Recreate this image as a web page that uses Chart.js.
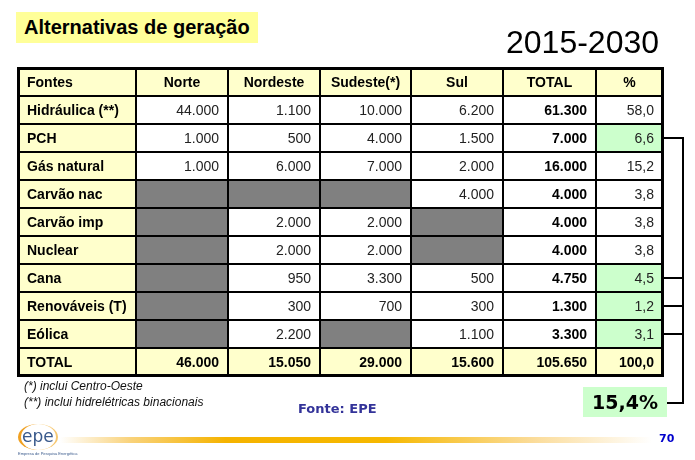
<!DOCTYPE html>
<html>
<head>
<meta charset="utf-8">
<title>Alternativas de geração</title>
<script src="https://cdn.jsdelivr.net/npm/chart.js"></script>
<style>
  body { margin:0; background:#fff; font-family:"Liberation Sans", Arial, sans-serif; }
  #wrap { position:relative; width:695px; height:460px; overflow:hidden; }
  #tbl { position:absolute; left:0; top:0; }
  .abs { position:absolute; white-space:nowrap; }
</style>
</head>
<body>
<div id="wrap">
  <canvas id="tbl" width="695" height="460"></canvas>
  <div class="abs" style="left:16px;top:12px;width:242px;height:31px;background:#ffff99;"></div>
  <div class="abs" style="left:24px;top:15px;font-weight:bold;font-size:20px;line-height:24px;color:#000;">Alternativas de geração</div>
  <div class="abs" style="left:506px;top:22px;font-size:32px;line-height:40px;color:#000;">2015-2030</div>
  <div class="abs" style="left:24px;top:378px;font-style:italic;font-size:12px;line-height:16px;color:#111;">(*) inclui Centro-Oeste<br>(**) inclui hidrelétricas binacionais</div>
  <div class="abs" style="left:298px;top:401px;font-family:'DejaVu Sans';font-weight:bold;font-size:13px;color:#333399;">Fonte: EPE</div>
  <div class="abs" id="box" style="left:583px;top:387px;width:84px;height:30px;background:#ccffcc;font-family:'DejaVu Sans';font-weight:bold;font-size:19px;line-height:30px;text-align:center;color:#000;"></div>
  <div class="abs" style="left:60px;top:437px;width:592px;height:6px;background:linear-gradient(to right,#fff 0%,#f9d27a 12%,#f5b300 28%,#f6b800 55%,#fbdc9a 80%,#fff 100%);"></div>
  <div class="abs" style="left:18px;top:424px;width:40px;height:26px;border-radius:50%;border-left:3px solid #f0a020;border-right:2px solid #f7c870;box-sizing:border-box;"></div>
  <div class="abs" style="left:22px;top:425px;font-family:'DejaVu Sans';font-size:17px;line-height:22px;color:#3a5a8c;">epe</div>
  <div class="abs" style="left:18px;top:451px;font-size:4px;color:#3a5a8c;">Empresa de Pesquisa Energética</div>
  <div class="abs" style="left:659px;top:432px;font-family:'DejaVu Sans';font-weight:bold;font-size:11px;color:#0000cc;">70</div>
</div>
<script>
// dados (MW) 2015-2030
const headers = ['Fontes', 'Norte', 'Nordeste', 'Sudeste(*)', 'Sul', 'TOTAL', '%'];
const fontes = ['Hidráulica (**)', 'PCH', 'Gás natural', 'Carvão nac', 'Carvão imp', 'Nuclear', 'Cana', 'Renováveis (T)', 'Eólica'];
const norte    = [44000, 1000, 1000, null, null, null, null, null, null];
const nordeste = [1100, 500, 6000, null, 2000, 2000, 950, 300, 2200];
const sudeste  = [10000, 4000, 7000, null, 2000, 2000, 3300, 700, null];
const sul      = [6200, 1500, 2000, 4000, null, null, 500, 300, 1100];
const total    = [61300, 7000, 16000, 4000, 4000, 4000, 4750, 1300, 3300];
const pct      = [58.0, 6.6, 15.2, 3.8, 3.8, 3.8, 4.5, 1.2, 3.1];
const totalRow = [46000, 15050, 29000, 15600, 105650, 100.0];
const destaque = ['PCH', 'Cana', 'Renováveis (T)', 'Eólica'];
const destaquePct = 15.4;

// column edges in px-like units of the x scale (layout only)
const colEdges = [0, 118, 210, 302, 393, 485, 578, 645];

const rowLabels = ['Fontes'].concat(fontes, ['TOTAL']);
const columns = [null, norte, nordeste, sudeste, sul, total, pct];

function fmtInt(v) { return String(v).replace(/\B(?=(\d{3})+(?!\d))/g, '.'); }
function fmtPct(v) { return v.toFixed(1).replace('.', ','); }

function cellText(c, r) {
  if (r === 0) return headers[c];
  if (c === 0) return rowLabels[r];
  if (r === rowLabels.length - 1) return c === 6 ? fmtPct(totalRow[c - 1]) : fmtInt(totalRow[c - 1]);
  const v = columns[c][r - 1];
  if (v === null) return '';
  return c === 6 ? fmtPct(v) : fmtInt(v);
}

function cellColor(c, r) {
  if (r === 0 || c === 0 || r === rowLabels.length - 1) return '#ffffcc';
  const v = columns[c][r - 1];
  if (v === null) return '#808080';
  if (c === 6 && destaque.includes(rowLabels[r])) return '#ccffcc';
  return '#ffffff';
}

const datasets = headers.map((h, c) => ({
  label: h,
  data: rowLabels.map(() => [colEdges[c], colEdges[c + 1]]),
  backgroundColor: rowLabels.map((_, r) => cellColor(c, r)),
  borderColor: '#000',
  borderWidth: 1,
  borderSkipped: false,
  inflateAmount: 0,
  barPercentage: 1,
  categoryPercentage: 1,
  grouped: false
}));

const tablePlugin = {
  id: 'tablePlugin',
  afterDatasetsDraw(chart) {
    const ctx = chart.ctx;
    const last = rowLabels.length - 1;
    ctx.save();
    ctx.textBaseline = 'middle';
    chart.data.datasets.forEach((ds, c) => {
      chart.getDatasetMeta(c).data.forEach((el, r) => {
        const t = cellText(c, r);
        if (!t) return;
        const bold = r === 0 || r === last || c === 0 || c === 5;
        ctx.font = (bold ? 'bold ' : '') + '14px "Liberation Sans", Arial, sans-serif';
        ctx.fillStyle = bold ? '#000' : '#222';
        const left = Math.min(el.x, el.base), right = Math.max(el.x, el.base);
        if (c === 0) { ctx.textAlign = 'left'; ctx.fillText(t, left + 9, el.y + 1); }
        else if (r === 0) { ctx.textAlign = 'center'; ctx.fillText(t, (left + right) / 2, el.y + 1); }
        else { ctx.textAlign = 'right'; ctx.fillText(t, right - 9, el.y + 1); }
      });
    });
    // outer frame
    const a = chart.chartArea;
    ctx.strokeStyle = '#000';
    ctx.lineWidth = 3;
    ctx.strokeRect(a.left + 0.5, a.top + 0.5, a.right - a.left - 1, a.bottom - a.top - 1);
    // bracket for highlighted sources
    const y = chart.scales.y;
    const bx = a.right + 20, boxY = 403;
    ctx.lineWidth = 2;
    ctx.beginPath();
    const ys = destaque.map(n => Math.round(y.getPixelForValue(rowLabels.indexOf(n))));
    ys.forEach(py => { ctx.moveTo(a.right, py); ctx.lineTo(bx, py); });
    ctx.moveTo(bx, Math.min(...ys) - 1);
    ctx.lineTo(bx, boxY);
    ctx.lineTo(a.right + 4, boxY);
    ctx.stroke();
    ctx.restore();
  }
};

document.getElementById('box').textContent = fmtPct(destaquePct) + '%';

new Chart(document.getElementById('tbl'), {
  type: 'bar',
  data: { labels: rowLabels, datasets: datasets },
  options: {
    indexAxis: 'y',
    responsive: false,
    animation: false,
    events: [],
    layout: { padding: { left: 18, top: 68, right: 32, bottom: 84 } },
    scales: {
      x: { type: 'linear', min: 0, max: colEdges[colEdges.length - 1], display: false },
      y: { type: 'category', display: false }
    },
    plugins: { legend: { display: false }, tooltip: { enabled: false } }
  },
  plugins: [tablePlugin]
});
</script>
</body>
</html>
